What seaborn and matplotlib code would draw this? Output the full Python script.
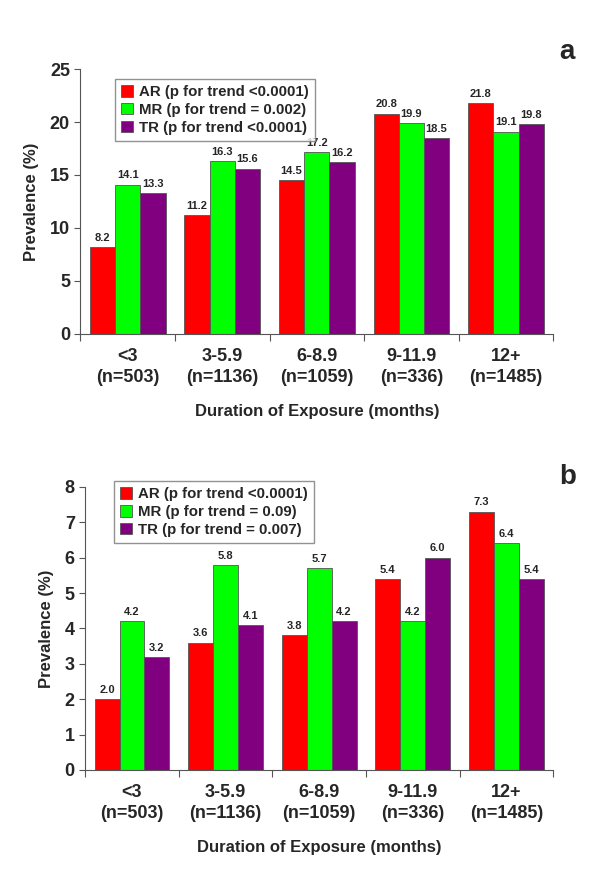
import numpy as np
import pandas as pd
import seaborn as sns
import matplotlib.pyplot as plt
from matplotlib.ticker import FixedLocator

categories = ["<3\n(n=503)", "3-5.9\n(n=1136)", "6-8.9\n(n=1059)",
              "9-11.9\n(n=336)", "12+\n(n=1485)"]
series = ["AR", "MR", "TR"]

# panel a
a_ar = [8.2, 11.2, 14.5, 20.8, 21.8]
a_mr = [14.1, 16.3, 17.2, 19.9, 19.1]
a_tr = [13.3, 15.6, 16.2, 18.5, 19.8]
a_legend = ["AR (p for trend <0.0001)", "MR (p for trend = 0.002)", "TR (p for trend <0.0001)"]

# panel b
b_ar = [2.0, 3.6, 3.8, 5.4, 7.3]
b_mr = [4.2, 5.8, 5.7, 4.2, 6.4]
b_tr = [3.2, 4.1, 4.2, 6.0, 5.4]
b_legend = ["AR (p for trend <0.0001)", "MR (p for trend = 0.09)", "TR (p for trend = 0.007)"]

colors = ["#FF0000", "#00FF00", "#800080"]

sns.set_theme(style="ticks")
plt.rcParams["font.family"] = ["Liberation Sans", "DejaVu Sans"]
plt.rcParams["font.weight"] = "bold"


def long_df(ar, mr, tr):
    rows = []
    for s, vals in zip(series, [ar, mr, tr]):
        for c, v in zip(categories, vals):
            rows.append({"cat": c, "series": s, "value": v})
    return pd.DataFrame(rows)


def draw(ax, df, legend_labels, ymax, ystep, letter, leg_x, leg_y, let_y):
    sns.barplot(data=df, x="cat", y="value", hue="series", order=categories,
                hue_order=series, palette=colors, width=0.8, edgecolor="#555555",
                linewidth=0.6, saturation=1, ax=ax)
    for cont in ax.containers:
        ax.bar_label(cont, fmt="%.1f", padding=3, fontsize=8, fontweight="bold")
    ax.set_xlim(-0.5, 4.5)
    ax.set_ylim(0, ymax)
    ax.set_yticks(np.arange(0, ymax + 0.01, ystep))
    ax.tick_params(axis="y", labelsize=13, length=4, width=0.8, color="#555555")
    ax.tick_params(axis="x", which="major", labelsize=13, length=0, pad=10)
    ax.xaxis.set_minor_locator(FixedLocator(np.arange(-0.5, 4.6, 1)))
    ax.tick_params(axis="x", which="minor", length=5, width=0.8, color="#555555")
    for lab in ax.get_xticklabels() + ax.get_yticklabels():
        lab.set_fontweight("bold")
    for lab in ax.get_xticklabels():
        lab.set_linespacing(1.35)
    ax.set_xlabel("Duration of Exposure (months)", fontsize=12, fontweight="bold", labelpad=13)
    ax.set_ylabel("Prevalence (%)", fontsize=12, fontweight="bold", labelpad=8)
    sns.despine(ax=ax)
    for sp in ["left", "bottom"]:
        ax.spines[sp].set_color("#555555")
        ax.spines[sp].set_linewidth(0.8)
    handles, _ = ax.get_legend_handles_labels()
    leg = ax.legend(handles, legend_labels, loc="upper left", bbox_to_anchor=(leg_x, leg_y),
                    fontsize=10.8, frameon=True, fancybox=False, edgecolor="#777777",
                    handlelength=0.8, handleheight=0.8, handletextpad=0.4,
                    labelspacing=0.25, borderpad=0.4)
    leg.get_frame().set_linewidth(1.0)
    for t in leg.get_texts():
        t.set_fontweight("bold")
    ax.text(1.03, let_y, letter, transform=ax.transAxes, fontsize=20,
            fontweight="bold", ha="center", va="center")


fig = plt.figure(figsize=(6, 8.74), dpi=100)
ax1 = fig.add_axes([0.134, 0.618, 0.788, 0.303])
ax2 = fig.add_axes([0.142, 0.119, 0.780, 0.324])

draw(ax1, long_df(a_ar, a_mr, a_tr), a_legend, 25, 5, "a", 0.057, 0.99, 1.064)
draw(ax2, long_df(b_ar, b_mr, b_tr), b_legend, 8, 1, "b", 0.045, 1.046, 1.035)

fig.savefig("out.png", dpi=100)
